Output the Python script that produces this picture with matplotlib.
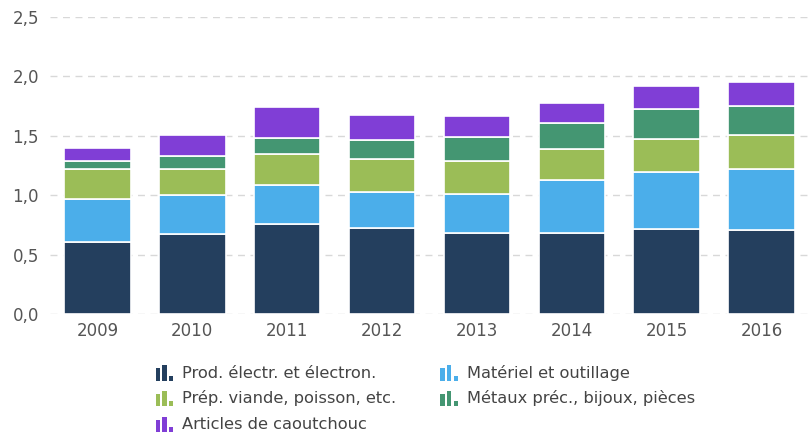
import matplotlib
matplotlib.use("Agg")
import matplotlib.pyplot as plt
from matplotlib.patches import Rectangle
from matplotlib.legend_handler import HandlerBase
from matplotlib.ticker import FuncFormatter

years = ["2009", "2010", "2011", "2012", "2013", "2014", "2015", "2016"]
series_names = [
    "Prod. électr. et électron.",
    "Matériel et outillage",
    "Prép. viande, poisson, etc.",
    "Métaux préc., bijoux, pièces",
    "Articles de caoutchouc",
]
prod_electr = [0.61, 0.67, 0.76, 0.725, 0.68, 0.68, 0.715, 0.705]
materiel = [0.36, 0.33, 0.33, 0.30, 0.33, 0.45, 0.48, 0.515]
prep_viande = [0.25, 0.22, 0.26, 0.28, 0.28, 0.255, 0.28, 0.29]
metaux = [0.07, 0.11, 0.13, 0.16, 0.20, 0.22, 0.25, 0.24]
caoutchouc = [0.11, 0.18, 0.26, 0.21, 0.18, 0.17, 0.19, 0.20]
colors = ["#243f5e", "#4baeea", "#9bbd57", "#449672", "#803ed6"]


class BarIconHandler(HandlerBase):
    # little "ıl." bar glyph used as the legend marker
    def create_artists(self, legend, orig_handle, xdescent, ydescent,
                       width, height, fontsize, trans):
        col = orig_handle.get_facecolor()
        w = width / 3.6
        gap = w * 0.45
        heights = [0.85, 1.05, 0.35]
        arts = []
        for i, h in enumerate(heights):
            r = Rectangle((-xdescent + i * (w + gap), -ydescent - 1), w, height * h,
                          facecolor=col, edgecolor="none", transform=trans)
            arts.append(r)
        return arts


plt.rcParams["font.family"] = ["DejaVu Sans"]

fig = plt.figure(figsize=(8.09, 4.34), dpi=100)
ax = fig.add_axes([50 / 809, 120 / 434, 759 / 809, 297 / 434])

x = list(range(len(years)))
bottom = [0.0] * len(years)
bars = []
for vals, col in zip([prod_electr, materiel, prep_viande, metaux, caoutchouc], colors):
    b = ax.bar(x, vals, bottom=bottom, width=0.70, color=col,
               edgecolor="white", linewidth=1.2, zorder=3)
    bars.append(b)
    bottom = [bo + v for bo, v in zip(bottom, vals)]

ax.set_ylim(0, 2.5)
ax.set_xlim(-0.5, len(years) - 0.5)
ax.set_yticks([0, 0.5, 1.0, 1.5, 2.0, 2.5])
ax.yaxis.set_major_formatter(FuncFormatter(lambda v, p: f"{v:.1f}".replace(".", ",")))
ax.set_xticks(x)
ax.set_xticklabels(years)
ax.tick_params(axis="both", length=0, labelsize=12, colors="#555555")
ax.tick_params(axis="y", pad=8)
ax.tick_params(axis="x", pad=6)
ax.grid(axis="y", color="#d8d8d8", linestyle=(0, (5, 4)), linewidth=1, zorder=0)
for s in ax.spines.values():
    s.set_visible(False)

# legend: column-major order so the first column holds 3 items
order = [0, 2, 4, 1, 3]
handles = [bars[i].patches[0] for i in order]
labels = [series_names[i] for i in order]
fig.legend(handles, labels, ncol=2, loc="upper left",
           bbox_to_anchor=(141 / 809, 1 - 350 / 434), frameon=False,
           fontsize=11.7, labelcolor="#444444",
           handler_map={Rectangle: BarIconHandler()},
           handlelength=1.0, handleheight=1.0, handletextpad=0.65,
           columnspacing=2.7, labelspacing=0.6)

fig.savefig("out.png", dpi=100)
